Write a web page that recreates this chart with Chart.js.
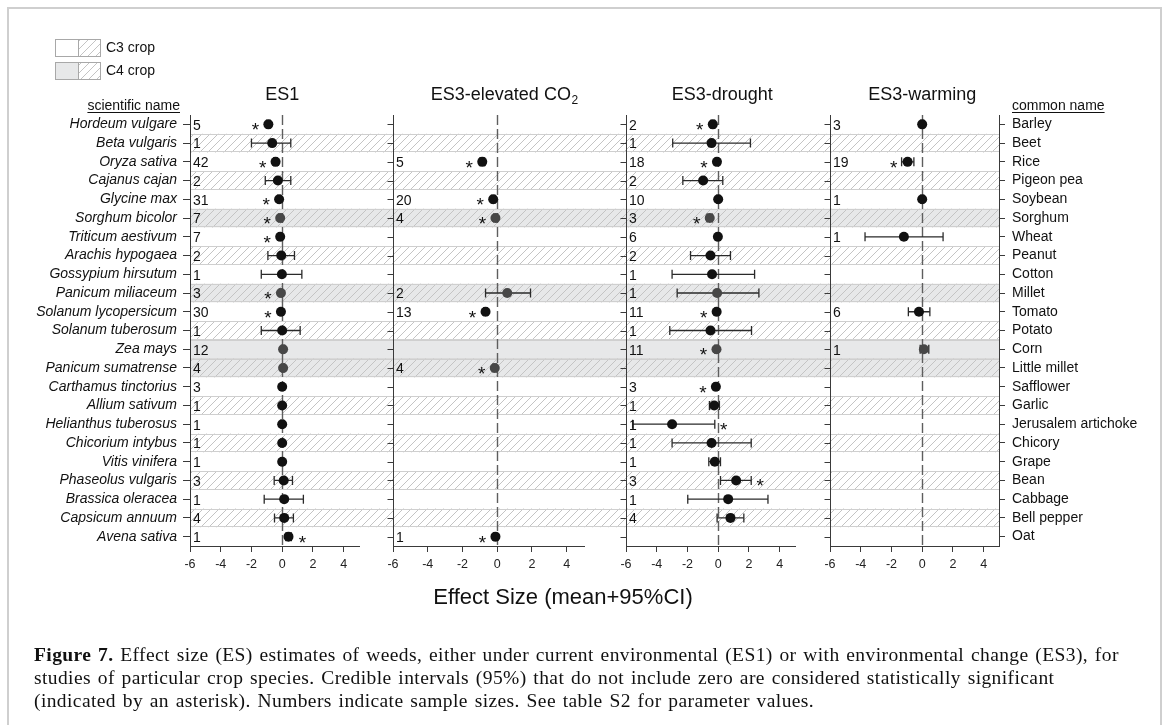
<!DOCTYPE html>
<html>
<head>
<meta charset="utf-8">
<script src="https://cdn.jsdelivr.net/npm/chart.js@4.4.1/dist/chart.umd.min.js"></script>
<style>
  html, body { margin: 0; padding: 0; background: #fff; }
  #wrap { position: relative; width: 1167px; height: 725px; overflow: hidden; background: #fff; }
  #frame { position: absolute; left: 7px; top: 7px; width: 1155px; height: 780px; border: 2px solid #cfcfcf; box-sizing: border-box; }
  #chart { position: absolute; left: 0; top: 0; }
  #caption { position: absolute; left: 34px; top: 643px; font-family: 'Liberation Serif', 'Times New Roman', serif;
             font-size: 19.5px; line-height: 23px; color: #111; white-space: nowrap; letter-spacing: 0.4px; word-spacing: 1.5px; }
</style>
</head>
<body>
<div id="wrap">
  <div id="frame"></div>
  <canvas id="chart" width="1167" height="725"></canvas>
  <div id="caption"><b>Figure 7.</b> Effect size (ES) estimates of weeds, either under current environmental (ES1) or with environmental change (ES3), for<br>studies of particular crop species. Credible intervals (95%) that do not include zero are considered statistically significant<br>(indicated by an asterisk). Numbers indicate sample sizes. See table S2 for parameter values.</div>
</div>
<script>
// crops, top to bottom
var scientificNames = ['Hordeum vulgare', 'Beta vulgaris', 'Oryza sativa', 'Cajanus cajan', 'Glycine max',
  'Sorghum bicolor', 'Triticum aestivum', 'Arachis hypogaea', 'Gossypium hirsutum', 'Panicum miliaceum',
  'Solanum lycopersicum', 'Solanum tuberosum', 'Zea mays', 'Panicum sumatrense', 'Carthamus tinctorius',
  'Allium sativum', 'Helianthus tuberosus', 'Chicorium intybus', 'Vitis vinifera', 'Phaseolus vulgaris',
  'Brassica oleracea', 'Capsicum annuum', 'Avena sativa'];
var commonNames = ['Barley', 'Beet', 'Rice', 'Pigeon pea', 'Soybean', 'Sorghum', 'Wheat', 'Peanut', 'Cotton',
  'Millet', 'Tomato', 'Potato', 'Corn', 'Little millet', 'Safflower', 'Garlic', 'Jerusalem artichoke',
  'Chicory', 'Grape', 'Bean', 'Cabbage', 'Bell pepper', 'Oat'];
var c4Crops = ['Sorghum bicolor', 'Panicum miliaceum', 'Zea mays', 'Panicum sumatrense'];
var xTicks = [-6, -4, -2, 0, 2, 4];

// ES1
var es1Mean = [-0.9, -0.65, -0.43, -0.28, -0.2, -0.13, -0.13, -0.06, -0.02, -0.08, -0.08, 0, 0.06, 0.06, 0, 0, 0, 0, 0, 0.1, 0.13, 0.13, 0.41];
var es1Lo = [-1.02, -2.0, -0.55, -1.1, -0.3, -0.24, -0.24, -0.93, -1.36, -0.18, -0.16, -1.36, -0.05, -0.04, -0.08, -0.08, -0.08, -0.08, -0.08, -0.52, -1.17, -0.5, 0.25];
var es1Hi = [-0.78, 0.56, -0.31, 0.56, -0.1, -0.03, -0.03, 0.8, 1.28, -0.01, -0.01, 1.17, 0.16, 0.16, 0.08, 0.08, 0.08, 0.08, 0.08, 0.67, 1.38, 0.73, 0.6];
var es1N = [5, 1, 42, 2, 31, 7, 7, 2, 1, 3, 30, 1, 12, 4, 3, 1, 1, 1, 1, 3, 1, 4, 1];
var es1Sig = [-1, 0, -1, 0, -1, -1, -1, 0, 0, -1, -1, 0, 0, 0, 0, 0, 0, 0, 0, 0, 0, 0, 1];

// ES3 - elevated CO2
var co2Mean = [null, null, -0.86, null, -0.23, -0.1, null, null, null, 0.58, -0.67, null, null, -0.14, null, null, null, null, null, null, null, null, -0.1];
var co2Lo = [null, null, -1.0, null, -0.34, -0.2, null, null, null, -0.67, -0.78, null, null, -0.24, null, null, null, null, null, null, null, null, -0.2];
var co2Hi = [null, null, -0.72, null, -0.12, -0.02, null, null, null, 1.92, -0.56, null, null, -0.04, null, null, null, null, null, null, null, null, -0.02];
var co2N = [null, null, 5, null, 20, 4, null, null, null, 2, 13, null, null, 4, null, null, null, null, null, null, null, null, 1];
var co2Sig = [0, 0, -1, 0, -1, -1, 0, 0, 0, 0, -1, 0, 0, -1, 0, 0, 0, 0, 0, 0, 0, 0, -1];

// ES3 - drought
var drMean = [-0.35, -0.43, -0.08, -0.98, 0, -0.55, -0.02, -0.5, -0.4, -0.07, -0.1, -0.5, -0.11, null, -0.15, -0.26, -3.0, -0.43, -0.22, 1.17, 0.65, 0.8, null];
var drLo = [-0.48, -2.96, -0.18, -2.3, -0.1, -0.72, -0.12, -1.8, -3.0, -2.67, -0.2, -3.15, -0.22, null, -0.26, -0.57, -5.57, -3.0, -0.61, 0.15, -1.98, -0.07, null];
var drHi = [-0.22, 2.1, -0.01, 0.3, 0.1, -0.38, 0.1, 0.8, 2.37, 2.65, -0.02, 2.17, -0.02, null, -0.05, 0.08, -0.22, 2.15, 0.15, 2.15, 3.24, 1.67, null];
var drN = [2, 1, 18, 2, 10, 3, 6, 2, 1, 1, 11, 1, 11, null, 3, 1, 1, 1, 1, 3, 1, 4, null];
var drSig = [-1, 0, -1, 0, 0, -1, 0, 0, 0, 0, -1, 0, -1, 0, -1, 0, 1, 0, 0, 1, 0, 0, 0];

// ES3 - warming
var wmMean = [0, null, -0.95, null, 0, null, -1.19, null, null, null, -0.21, null, 0.11, null, null, null, null, null, null, null, null, null, null];
var wmLo = [-0.1, null, -1.34, null, -0.1, null, -3.72, null, null, null, -0.9, null, -0.13, null, null, null, null, null, null, null, null, null, null];
var wmHi = [0.1, null, -0.54, null, 0.1, null, 1.36, null, null, null, 0.5, null, 0.43, null, null, null, null, null, null, null, null, null, null];
var wmN = [3, null, 19, null, 1, null, 1, null, null, null, 6, null, 1, null, null, null, null, null, null, null, null, null, null];
var wmSig = [0, 0, -1, 0, 0, 0, 0, 0, 0, 0, 0, 0, 0, 0, 0, 0, 0, 0, 0, 0, 0, 0, 0];

var panels = [
  { id: 'x1', title: 'ES1', mean: es1Mean, lo: es1Lo, hi: es1Hi, n: es1N, sig: es1Sig },
  { id: 'x2', title: 'ES3-elevated CO', sub: '2', mean: co2Mean, lo: co2Lo, hi: co2Hi, n: co2N, sig: co2Sig },
  { id: 'x3', title: 'ES3-drought', mean: drMean, lo: drLo, hi: drHi, n: drN, sig: drSig },
  { id: 'x4', title: 'ES3-warming', mean: wmMean, lo: wmLo, hi: wmHi, n: wmN, sig: wmSig }
];

var FONT = "'Liberation Sans', Arial, sans-serif";
var AXIS_COLOR = '#3a3a3a';
var BAND_GRAY = '#e7e8e9';
var HATCH_COLOR = '#c4c4c4';
var BAND_EDGE = '#cfcfcf';

Chart.defaults.font.family = FONT;
Chart.defaults.color = '#222';

function makeHatch(ctx) {
  var c = document.createElement('canvas');
  c.width = 8; c.height = 8;
  var g = c.getContext('2d');
  g.strokeStyle = HATCH_COLOR;
  g.lineWidth = 1;
  g.beginPath();
  g.moveTo(0, 8); g.lineTo(8, 0);
  g.moveTo(-4, 4); g.lineTo(4, -4);
  g.moveTo(4, 12); g.lineTo(12, 4);
  g.stroke();
  return ctx.createPattern(c, 'repeat');
}

function isC4(name) { return c4Crops.indexOf(name) >= 0; }

// datasets: one point set and one error-bar set per panel
var datasets = [];
panels.forEach(function (p) {
  var pts = [], colors = [], bars = [];
  scientificNames.forEach(function (name, i) {
    if (p.mean[i] == null) return;
    pts.push({ x: p.mean[i], y: name });
    colors.push(isC4(name) ? '#474747' : '#111');
    if (p.lo[i] != null) {
      bars.push({ x: p.lo[i], y: name }, { x: p.hi[i], y: name }, { x: null, y: name });
    }
  });
  datasets.push({
    type: 'scatter', data: pts, xAxisID: p.id, yAxisID: 'y', order: 0,
    pointRadius: 5, pointBackgroundColor: colors, pointBorderColor: colors, pointBorderWidth: 0
  });
  datasets.push({
    type: 'line', data: bars, xAxisID: p.id, yAxisID: 'y', order: 1, spanGaps: false, fill: false,
    borderColor: '#2a2a2a', borderWidth: 1.3,
    pointStyle: 'line', pointRotation: 90, pointRadius: 4.5, pointBorderColor: '#2a2a2a', pointBorderWidth: 1.3
  });
});

function panelAxis(weight) {
  return {
    type: 'linear', position: 'bottom', stack: 'panels', stackWeight: weight, min: -6, max: 5,
    afterBuildTicks: function (s) { s.ticks = xTicks.map(function (v) { return { value: v }; }); },
    grid: { display: true, drawOnChartArea: false, tickLength: 6, color: AXIS_COLOR },
    border: { display: true, color: AXIS_COLOR, width: 1 },
    ticks: { padding: 5, color: '#222', font: { size: 12.5 }, autoSkip: false, maxRotation: 0, minRotation: 0 },
    afterFit: function (s) { s.height = 30; }
  };
}
function gapAxis(weight) {
  return {
    type: 'linear', position: 'bottom', stack: 'panels', stackWeight: weight, min: 0, max: 1,
    grid: { display: false }, border: { display: false }, ticks: { display: false },
    afterFit: function (s) { s.height = 30; }
  };
}
function rowAxis(labels, pos, width, italic, tick, pad) {
  return {
    type: 'category', labels: labels, position: pos, offset: true,
    grid: { display: true, drawOnChartArea: false, offset: false, tickLength: tick, color: AXIS_COLOR },
    border: { display: true, color: AXIS_COLOR, width: 1 },
    ticks: { autoSkip: false, padding: pad, color: '#111', font: { size: 14, style: italic ? 'italic' : 'normal' } },
    afterFit: function (s) { s.width = width; }
  };
}

var decor = {
  id: 'decor',
  beforeDraw: function (chart) {
    var ctx = chart.ctx, a = chart.chartArea, ys = chart.scales.y;
    var step = ys.getPixelForValue(1) - ys.getPixelForValue(0);
    var hatch = makeHatch(ctx);
    ctx.save();
    scientificNames.forEach(function (name, i) {
      var top = ys.getPixelForValue(i) - step / 2;
      var c4 = isC4(name), hatched = i % 2 === 1;
      if (c4) { ctx.fillStyle = BAND_GRAY; ctx.fillRect(a.left, top, a.right - a.left, step); }
      if (hatched) { ctx.fillStyle = hatch; ctx.fillRect(a.left, top, a.right - a.left, step); }
      if (c4 || hatched) {
        ctx.strokeStyle = BAND_EDGE; ctx.lineWidth = 1;
        ctx.beginPath();
        ctx.moveTo(a.left, Math.round(top) + 0.5); ctx.lineTo(a.right, Math.round(top) + 0.5);
        ctx.moveTo(a.left, Math.round(top + step) - 0.5); ctx.lineTo(a.right, Math.round(top + step) - 0.5);
        ctx.stroke();
      }
    });
    ctx.restore();
  },
  beforeDatasetsDraw: function (chart) {
    var ctx = chart.ctx, a = chart.chartArea, ys = chart.scales.y;
    ctx.save();
    panels.forEach(function (p, k) {
      var xs = chart.scales[p.id];
      // zero line
      var x0 = Math.round(xs.getPixelForValue(0)) + 0.5;
      ctx.strokeStyle = '#5e5e5e'; ctx.lineWidth = 1.4; ctx.setLineDash([10, 4]);
      ctx.beginPath(); ctx.moveTo(x0, a.top); ctx.lineTo(x0, a.bottom); ctx.stroke();
      ctx.setLineDash([]);
      if (k === 0) return;
      // left axis of the inner panels
      var xl = Math.round(xs.getPixelForValue(-6)) + 0.5;
      ctx.strokeStyle = AXIS_COLOR; ctx.lineWidth = 1;
      ctx.beginPath(); ctx.moveTo(xl, a.top); ctx.lineTo(xl, a.bottom + 0.5);
      scientificNames.forEach(function (name, i) {
        var y = Math.round(ys.getPixelForValue(i)) + 0.5;
        ctx.moveTo(xl - 6, y); ctx.lineTo(xl, y);
      });
      ctx.stroke();
    });
    ctx.restore();
  },
  afterDatasetsDraw: function (chart) {
    var ctx = chart.ctx, ys = chart.scales.y;
    ctx.save();
    ctx.fillStyle = '#111';
    panels.forEach(function (p) {
      var xs = chart.scales[p.id];
      scientificNames.forEach(function (name, i) {
        var y = ys.getPixelForValue(i);
        if (p.n[i] != null) {
          ctx.font = '14px ' + FONT; ctx.textAlign = 'left'; ctx.textBaseline = 'middle';
          ctx.fillText(String(p.n[i]), xs.getPixelForValue(-6) + 3, y + 1.5);
        }
        if (p.sig[i]) {
          var xm = xs.getPixelForValue(p.mean[i]);
          var x = p.sig[i] < 0 ? Math.min(xm - 5, xs.getPixelForValue(p.lo[i])) - 8
                               : Math.max(xm + 5, xs.getPixelForValue(p.hi[i])) + 9;
          ctx.font = '19px ' + FONT; ctx.textAlign = 'center'; ctx.textBaseline = 'alphabetic';
          ctx.fillText('*', x, y + 12);
        }
      });
    });
    ctx.restore();
  },
  afterDraw: function (chart) {
    var ctx = chart.ctx;
    ctx.save();
    ctx.fillStyle = '#111';
    ctx.textBaseline = 'middle';
    // panel titles
    var nudge = [0, 7, 4, 0];
    panels.forEach(function (p, k) {
      var cx = chart.scales[p.id].getPixelForValue(0) + nudge[k];
      ctx.font = '18px ' + FONT;
      var w = ctx.measureText(p.title).width, ws = 0;
      if (p.sub) { ctx.font = '12px ' + FONT; ws = ctx.measureText(p.sub).width; }
      var left = cx - (w + ws) / 2;
      ctx.textAlign = 'left';
      ctx.font = '18px ' + FONT;
      ctx.fillText(p.title, left, 95);
      if (p.sub) { ctx.font = '12px ' + FONT; ctx.fillText(p.sub, left + w + 0.5, 101); }
    });
    // column headers
    ctx.font = '14px ' + FONT;
    ctx.strokeStyle = '#111'; ctx.lineWidth = 1;
    ctx.textAlign = 'right';
    ctx.fillText('scientific name', 180, 106);
    var sw = ctx.measureText('scientific name').width;
    ctx.beginPath(); ctx.moveTo(180 - sw, 112.5); ctx.lineTo(180, 112.5); ctx.stroke();
    ctx.textAlign = 'left';
    ctx.fillText('common name', 1012, 106);
    var cw = ctx.measureText('common name').width;
    ctx.beginPath(); ctx.moveTo(1012, 112.5); ctx.lineTo(1012 + cw, 112.5); ctx.stroke();
    // x title
    ctx.font = '22px ' + FONT; ctx.textAlign = 'center';
    ctx.fillText('Effect Size (mean+95%CI)', 563, 598);
    // legend
    var hatch = makeHatch(ctx);
    [['C3 crop', '#fff', 39], ['C4 crop', BAND_GRAY, 62]].forEach(function (e) {
      var y = e[2];
      ctx.fillStyle = e[1]; ctx.fillRect(55, y, 23, 17);
      ctx.fillStyle = '#fff'; ctx.fillRect(78, y, 22, 17);
      ctx.fillStyle = hatch; ctx.fillRect(78, y, 22, 17);
      ctx.strokeStyle = '#a8a8a8'; ctx.lineWidth = 1;
      ctx.strokeRect(55.5, y + 0.5, 45, 17);
      ctx.beginPath(); ctx.moveTo(78.5, y); ctx.lineTo(78.5, y + 17.5); ctx.stroke();
      ctx.fillStyle = '#111'; ctx.font = '14px ' + FONT; ctx.textAlign = 'left';
      ctx.fillText(e[0], 106, y + 9);
    });
    ctx.restore();
  }
};

new Chart(document.getElementById('chart'), {
  type: 'scatter',
  data: { datasets: datasets },
  options: {
    responsive: false,
    animation: false,
    events: [],
    layout: { padding: { top: 115, bottom: 149, left: 0, right: 0 } },
    plugins: { legend: { display: false }, tooltip: { enabled: false }, title: { display: false } },
    scales: {
      y: rowAxis(scientificNames, 'left', 190, true, 7, 6),
      x1: panelAxis(169),
      g1: gapAxis(34),
      x2: panelAxis(191),
      g2: gapAxis(42),
      x3: panelAxis(169),
      g3: gapAxis(35),
      x4: panelAxis(169),
      y2: rowAxis(commonNames, 'right', 168, false, 6, 7)
    }
  },
  plugins: [decor]
});
</script>
</body>
</html>
